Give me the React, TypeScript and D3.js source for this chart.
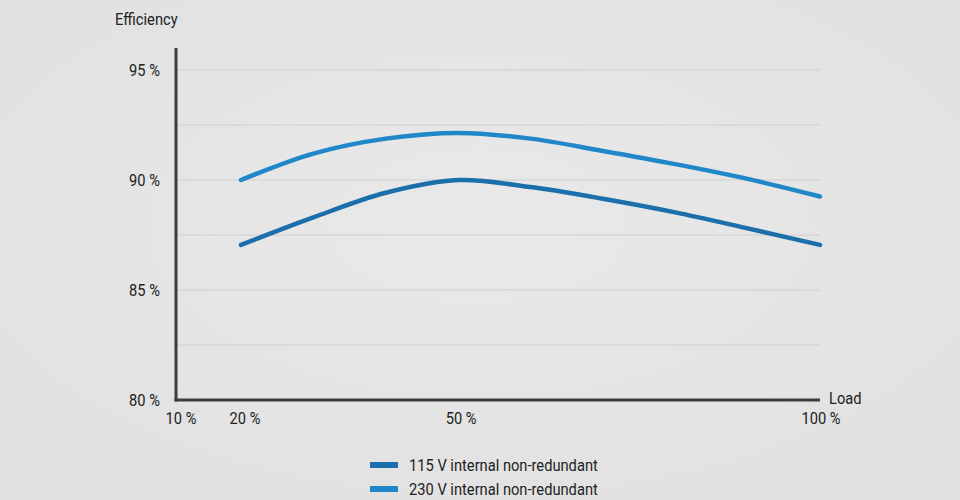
import React from "react";
import * as d3 from "d3";

const loads = [20, 30, 40, 50, 60, 70, 80, 90, 100];
const eff115 = [87.05, 88.3, 89.42, 90.0, 89.68, 89.15, 88.53, 87.8, 87.05];
const eff230 = [90.0, 91.2, 91.88, 92.14, 91.88, 91.32, 90.72, 90.05, 89.25];
const yTicks = [80, 85, 90, 95];
const yGrid = [82.5, 85, 87.5, 90, 92.5, 95];
const xTicks = [10, 20, 50, 100];
const seriesNames = ["115 V internal non-redundant", "230 V internal non-redundant"];
const seriesColors = ["#1b6fab", "#2088c9"];

const W = 960;
const H = 500;
const axisX = 176;
const axisY = 400;
const font = "Roboto, 'Liberation Sans', sans-serif";
const FS = 16.5;
const SX = 0.89;

function T({ x, y, anchor, children }: { x: number; y: number; anchor?: string; children: React.ReactNode }) {
  return (
    <text
      transform={`translate(${x},${y}) scale(${SX},1)`}
      fontSize={FS}
      fill="#222"
      textAnchor={anchor || "start"}
    >
      {children}
    </text>
  );
}

export default function App() {
  const x = d3.scaleLinear().domain([20, 100]).range([241, 820]);
  const y = d3.scaleLinear().domain([80, 95]).range([400, 70]);
  const line = d3
    .line<number>()
    .x((_, i) => x(loads[i]))
    .y((d) => y(d))
    .curve(d3.curveCatmullRom.alpha(0.5));
  const series = [eff115, eff230];

  return (
    <svg
      width={W}
      height={H}
      style={{ position: "absolute", left: 0, top: 0 }}
      fontFamily={font}
    >
      <defs>
        <radialGradient id="bg" cx="50%" cy="45%" r="65%">
          <stop offset="0%" stopColor="#e9e9e9" />
          <stop offset="100%" stopColor="#e1e1e1" />
        </radialGradient>
      </defs>
      <rect x={0} y={0} width={W} height={H} fill="url(#bg)" />

      {yGrid.map((v) => (
        <line
          key={v}
          x1={axisX}
          x2={820}
          y1={y(v)}
          y2={y(v)}
          stroke="#cfcfcf"
          strokeWidth={1.2}
        />
      ))}

      {series.map((s, i) => (
        <path
          key={i}
          d={line(s) || ""}
          fill="none"
          stroke={seriesColors[i]}
          strokeWidth={4.5}
          strokeLinecap="round"
        />
      ))}

      <line x1={axisX} x2={axisX} y1={48} y2={axisY + 1.5} stroke="#3c3c3c" strokeWidth={3} />
      <line x1={axisX - 1.5} x2={820} y1={axisY} y2={axisY} stroke="#3c3c3c" strokeWidth={3} />

      <T x={115} y={25}>Efficiency</T>
      {yTicks.map((v) => (
        <T key={v} x={160} y={y(v) + 6} anchor="end">
          {v} %
        </T>
      ))}
      {xTicks.map((v) => (
        <T
          key={v}
          x={v === 10 ? 181 : x(v) + (v === 20 ? 4 : v === 50 ? 3 : 1)}
          y={424}
          anchor="middle"
        >
          {v} %
        </T>
      ))}
      <T x={829} y={404}>Load</T>

      {seriesNames.map((n, i) => (
        <g key={n} transform={`translate(370, ${465 + i * 24})`}>
          <rect x={0} y={-3} width={28} height={6} fill={seriesColors[i]} />
          <T x={39} y={6}>{n}</T>
        </g>
      ))}
    </svg>
  );
}
